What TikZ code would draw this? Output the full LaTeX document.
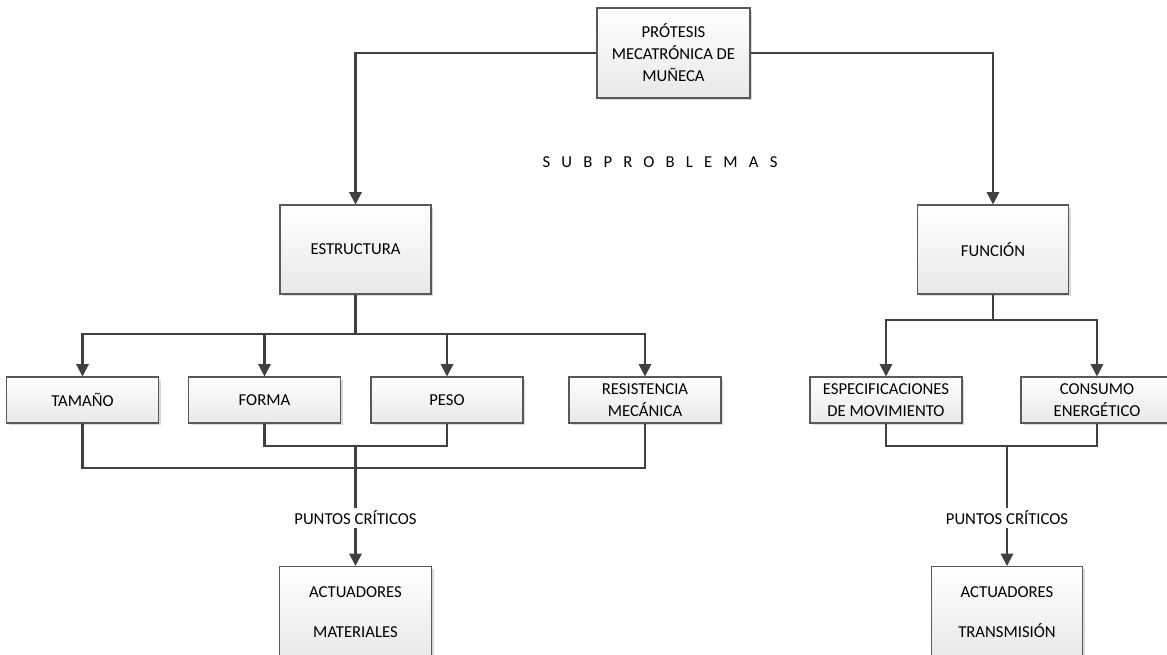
\documentclass[tikz,border=0pt]{standalone}
\usepackage{fontspec}
\setmainfont{Carlito}
\newfontfamily\spreadfont[LetterSpace=67]{Carlito}
\usetikzlibrary{positioning, arrows.meta, shadows}

\begin{document}
\begin{tikzpicture}[x=0.02cm, y=-0.02cm, font=\fontsize{9.5}{12.5}\selectfont,
  blk/.style={draw=black!65, line width=0.6pt, top color=white, bottom color=black!9,
    drop shadow={shadow xshift=0.05cm, shadow yshift=-0.05cm, fill=black, opacity=0.15},
    align=center, inner sep=2pt},
  bigblk/.style={blk, minimum width=3.02cm, minimum height=1.78cm},
  smallblk/.style={blk, minimum width=3.04cm, minimum height=0.92cm},
  endblk/.style={blk, anchor=north, minimum width=3.03cm, minimum height=1.84cm},
  wire/.style={draw=black!75, line width=1.15pt},
  arr/.style={wire, -{Triangle[width=7pt, length=7pt]}},
  tag/.style={fill=white, inner sep=1.5pt}]
\useasboundingbox (0,0) rectangle (1167,655);

% Root
\node[blk, minimum width=3.06cm, minimum height=1.8cm] (root) at (673.5,53) {PRÓTESIS\\MECATRÓNICA DE\\MUÑECA};
\node (sub) at (660,162) {\spreadfont SUBPROBLEMAS};

% Subproblems
\node[bigblk] (estr) at (355.5,249.5) {ESTRUCTURA};
\node[bigblk] (func) at (993,249.5) {FUNCIÓN};
\draw[arr] (root.west) -| (estr.north);
\draw[arr] (root.east) -| (func.north);

% Estructura branch
\node[smallblk] (tam) at (82.5,400) {TAMAÑO};
\node[smallblk] (forma) at (264.5,400) {FORMA};
\node[smallblk] (peso) at (447,400) {PESO};
\node[smallblk] (resis) at (645,400) {RESISTENCIA\\MECÁNICA};
\coordinate (ebus) at (355.5,334);
\foreach \n in {tam,forma,peso,resis}
  \draw[arr] (estr.south) -- (ebus) -| (\n.north);

\coordinate (ej1) at (355.5,446);
\coordinate (ej2) at (355.5,468);
\draw[wire] (forma.south) |- (ej1) -| (peso.south);
\draw[wire] (tam.south) |- (ej2) -| (resis.south);
\node[endblk] (act1) at (355.5,566) {ACTUADORES\\[10.2pt]MATERIALES};
\draw[arr] (ej1) -- node[tag, pos=0.6] {PUNTOS CRÍTICOS} (act1.north);

% Funcion branch
\node[smallblk] (espec) at (886,400) {ESPECIFICACIONES\\DE MOVIMIENTO};
\node[smallblk] (cons) at (1097,400) {CONSUMO\\ENERGÉTICO};
\coordinate (fbus) at (993,320);
\foreach \n in {espec,cons}
  \draw[arr] (func.south) -- (fbus) -| (\n.north);

\coordinate (fj1) at (1007,446);
\draw[wire] (espec.south) |- (fj1) -| (cons.south);
\node[endblk] (act2) at (1007,566) {ACTUADORES\\[10.2pt]TRANSMISIÓN};
\draw[arr] (fj1) -- node[tag, pos=0.6] {PUNTOS CRÍTICOS} (act2.north);
\end{tikzpicture}
\end{document}
